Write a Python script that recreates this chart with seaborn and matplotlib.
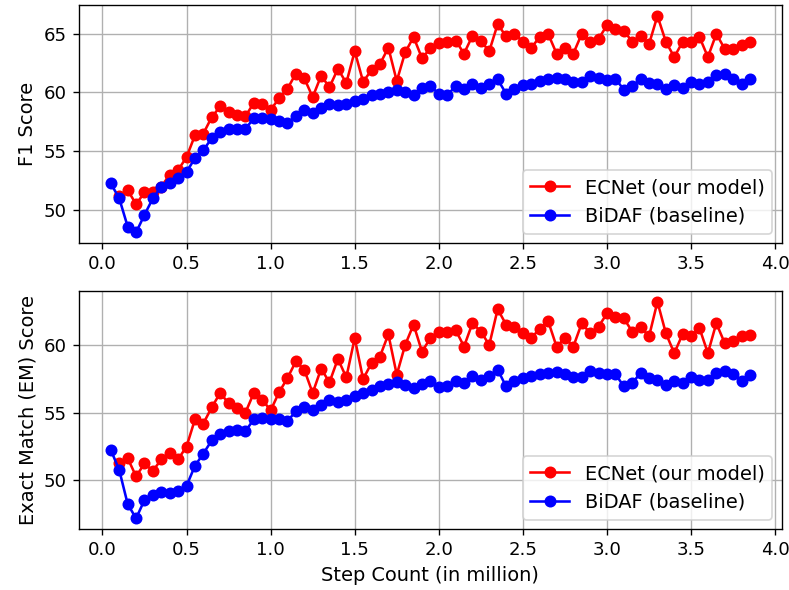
import numpy as np
import pandas as pd
import matplotlib
matplotlib.use("Agg")
import matplotlib.pyplot as plt
import seaborn as sns

# step counts (million) for the baseline; ECNet starts at the second step
steps_bidaf = [round(0.05 * k, 2) for k in range(1, 78)]
steps_ecnet = steps_bidaf[1:]

f1_ecnet = [51.2, 51.7, 50.5, 51.5, 51.5, 52.0, 53.0, 53.4, 54.5,
            56.35, 56.5, 57.9, 58.8, 58.3, 58.05, 57.97, 59.1, 59.0, 58.5,
            59.5, 60.3, 61.6, 61.2, 59.6, 61.4, 60.45, 62.0, 60.8, 63.5,
            60.9, 61.9, 62.4, 63.8, 60.96, 63.4, 64.7, 62.9, 63.75, 64.2,
            64.3, 64.4, 63.3, 64.8, 64.35, 63.5, 65.8, 64.75, 64.97, 64.3,
            63.8, 64.7, 64.97, 63.3, 63.8, 63.3, 64.97, 64.3, 64.55, 65.7,
            65.4, 65.25, 64.3, 64.8, 64.1, 66.5, 64.3, 63.0, 64.3, 64.3,
            64.7, 63.0, 64.97, 63.7, 63.7, 64.0, 64.3]

f1_bidaf = [52.26, 50.99, 48.6, 48.1, 49.6, 51.0, 52.0, 52.26, 52.7, 53.25,
            54.4, 55.1, 56.1, 56.6, 56.9, 56.9, 56.9, 57.8, 57.85, 57.7,
            57.6, 57.4, 58.0, 58.5, 58.25, 58.7, 59.0, 58.9, 59.0, 59.3,
            59.46, 59.75, 59.9, 60.03, 60.2, 60.03, 59.75, 60.4, 60.5, 59.9,
            59.8, 60.5, 60.3, 60.7, 60.4, 60.7, 61.1, 59.9, 60.3, 60.6,
            60.73, 61.0, 61.16, 61.24, 61.16, 60.88, 60.88, 61.36, 61.24, 61.07,
            61.16, 60.23, 60.5, 61.16, 60.8, 60.73, 60.3, 60.6, 60.4, 60.88,
            60.73, 60.88, 61.5, 61.58, 61.16, 60.68, 61.16]

em_ecnet = [51.3, 51.64, 50.3, 51.25, 50.7, 51.56, 52.0, 51.56, 52.5,
            54.5, 54.2, 55.4, 56.45, 55.7, 55.35, 55.0, 56.45, 55.97, 55.16,
            56.5, 57.55, 58.78, 58.17, 56.45, 58.24, 57.24, 58.97, 57.6, 60.5,
            57.48, 58.66, 59.14, 60.78, 57.8, 60.0, 61.5, 59.5, 60.5, 60.98,
            60.98, 61.1, 59.88, 61.6, 60.98, 60.0, 62.64, 61.5, 61.35, 60.86,
            60.5, 61.2, 61.76, 59.88, 60.5, 59.88, 61.6, 60.86, 61.35, 62.32,
            62.08, 61.96, 60.98, 61.35, 60.62, 63.18, 60.86, 59.39, 60.8, 60.62,
            61.23, 59.39, 61.6, 60.13, 60.25, 60.62, 60.74]

em_bidaf = [52.25, 50.76, 48.26, 47.2, 48.56, 48.95, 49.12, 49.05, 49.24, 49.6,
            51.08, 51.98, 52.96, 53.4, 53.64, 53.7, 53.64, 54.5, 54.6, 54.5,
            54.5, 54.38, 55.1, 55.45, 55.2, 55.6, 55.97, 55.8, 55.97, 56.2,
            56.45, 56.7, 56.94, 57.1, 57.26, 57.06, 56.82, 57.1, 57.36, 56.87,
            56.94, 57.3, 57.2, 57.7, 57.43, 57.68, 58.17, 56.94, 57.3, 57.55,
            57.68, 57.85, 57.92, 58.0, 57.85, 57.6, 57.6, 58.1, 57.92, 57.85,
            57.85, 56.94, 57.19, 57.92, 57.55, 57.43, 57.07, 57.3, 57.19, 57.6,
            57.43, 57.43, 57.92, 58.04, 57.85, 57.3, 57.75]

series_names = ["ECNet (our model)", "BiDAF (baseline)"]
series_colors = ["red", "blue"]
ylabels = ["F1 Score", "Exact Match (EM) Score"]
xlabel = "Step Count (in million)"
xticks = [0.0, 0.5, 1.0, 1.5, 2.0, 2.5, 3.0, 3.5, 4.0]

dpi = 123.3
fig, axes = plt.subplots(2, 1, figsize=(789 / dpi, 590 / dpi), dpi=dpi)
fig.subplots_adjust(left=0.100, right=0.991, top=0.9915, bottom=0.103, hspace=0.20)

panels = [(f1_ecnet, f1_bidaf), (em_ecnet, em_bidaf)]
for ax, (a, b), ylab in zip(axes, panels, ylabels):
    for xs, vals, name, col in zip((steps_ecnet, steps_bidaf), (a, b),
                                   series_names, series_colors):
        df = pd.DataFrame({"step": xs, "score": vals})
        sns.lineplot(data=df, x="step", y="score", ax=ax, color=col, marker="o",
                     markersize=6, linewidth=1.5, markeredgecolor=col,
                     markeredgewidth=1.0, label=name)
    ax.set_ylabel(ylab, fontsize=11.3)
    ax.set_xlabel("")
    ax.grid(True, color="#b0b0b0", linewidth=0.8)
    ax.set_xticks(xticks)
    ax.legend(loc="lower right", fontsize=11.3)
    ax.tick_params(labelsize=10.6)

axes[1].set_xlabel(xlabel, fontsize=11.3)

fig.savefig("out.png", dpi=dpi)
